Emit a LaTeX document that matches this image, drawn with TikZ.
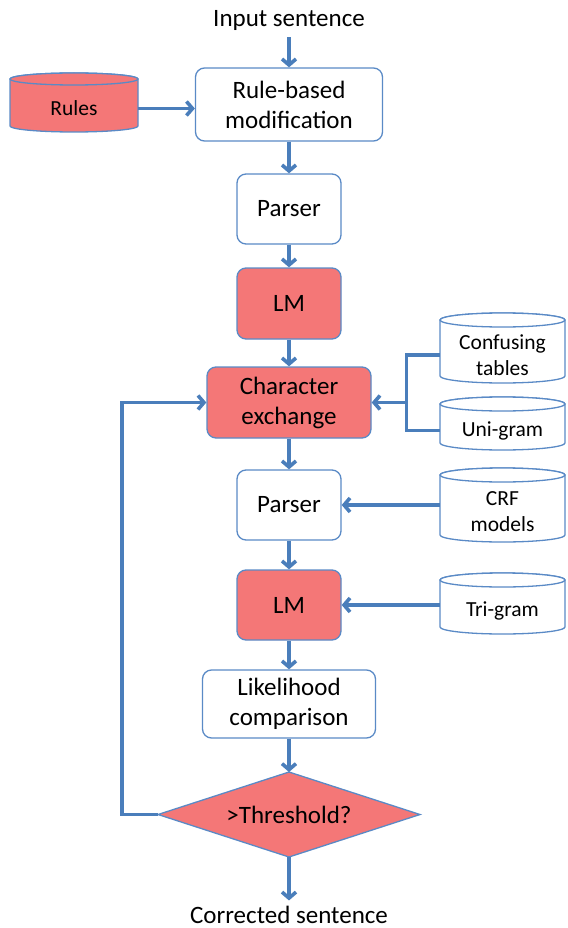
\documentclass[tikz,border=0pt]{standalone}
\usepackage{fontspec}
\setmainfont{Carlito}
\usetikzlibrary{arrows.meta,calc}

\definecolor{flowblue}{HTML}{4A7EBB}
\definecolor{edgeblue}{HTML}{5A8AC6}
\definecolor{boxred}{HTML}{F47777}

\tikzset{
  conn/.style={draw=flowblue, line width=3.6pt},
  arr/.style={conn, -{Straight Barb[length=6pt,width=14pt]}},
  stepbox/.style={draw=edgeblue, line width=1.3pt, rounded corners=9pt, fill=white,
    font=\fontsize{25}{30}\selectfont, align=center, inner sep=0pt},
  redbox/.style={stepbox, fill=boxred},
  lbl/.style={font=\fontsize{25}{30}\selectfont, inner sep=0pt},
  cyl/.style={draw=edgeblue, line width=1.3pt},
  cyltext/.style={font=\fontsize{21.5}{26}\selectfont, align=center, inner sep=0pt},
  decision/.style={draw=edgeblue, line width=1.3pt, fill=boxred, line join=miter}
}

% database cylinder: name, left, right, top, bottom, ellipse half-height, fill, text
\newcommand\dbcyl[8]{%
  \pgfmathsetmacro\cylcx{(#2+#3)/2}%
  \pgfmathsetmacro\cylhw{(#3-#2)/2}%
  \pgfmathsetmacro\cylw{#3-#2}%
  \pgfmathsetmacro\cylt{#4+#6}%
  \pgfmathsetmacro\cylb{#5-#6}%
  \pgfmathsetmacro\cylcy{(#4+2*#6+#5)/2}%
  \path[cyl, fill=#7] (#2,\cylt) -- (#2,\cylb)
    arc[start angle=180, end angle=360, x radius=\cylhw pt, y radius=#6pt]
    -- (#3,\cylt)
    arc[start angle=0, end angle=180, x radius=\cylhw pt, y radius=#6pt] -- cycle;
  \path[cyl, fill=#7] (\cylcx,\cylt) ellipse[x radius=\cylhw pt, y radius=#6pt];
  \node[cyltext, minimum width=\cylw pt] (#1) at (\cylcx,\cylcy) {#8};
}

\begin{document}
\begin{tikzpicture}[x=1pt, y=-1pt]
  \useasboundingbox (0,0) rectangle (567,928);

  % main chain
  \node[lbl, anchor=base] (inp) at (289,27) {Input sentence};
  \node[stepbox, minimum width=187pt, minimum height=73pt] (rbm) at (289,104.5) {Rule-based\\modification};
  \node[stepbox, minimum width=104pt, minimum height=70pt] (p1) at (289,209) {Parser};
  \node[redbox, minimum width=104pt, minimum height=71pt] (lm1) at (289,303.5) {LM};
  \node[redbox, minimum width=164pt, minimum height=71pt] (ce) at (289,402.5) {Character\\exchange};
  \node[stepbox, minimum width=104pt, minimum height=70pt] (p2) at (289,505) {Parser};
  \node[redbox, minimum width=104pt, minimum height=70pt] (lm2) at (289,605) {LM};
  \node[stepbox, minimum width=173pt, minimum height=68pt] (lc) at (289,704) {Likelihood\\comparison};

  % decision diamond
  \coordinate (diaN) at (289,772);
  \coordinate (diaE) at (420,814.5);
  \coordinate (diaS) at (289,857);
  \coordinate (diaW) at (158,814.5);
  \draw[decision] (diaN) -- (diaE) -- (diaS) -- (diaW) -- cycle;
  \node[lbl] (dia) at (289,814.5) {>Threshold?};

  \node[lbl, anchor=base] (out) at (289,923) {Corrected sentence};

  % resources
  \dbcyl{rules}{10}{138}{73}{132}{6}{boxred}{Rules}
  \dbcyl{ct}{440}{565}{313}{383}{7}{white}{Confusing\\tables}
  \dbcyl{ug}{440}{565}{397}{450}{7}{white}{Uni-gram}
  \dbcyl{crf}{440}{565}{468}{542}{7}{white}{CRF\\models}
  \dbcyl{tg}{440}{565}{573}{634}{7}{white}{Tri-gram}

  % vertical flow
  \draw[arr] ([yshift=-6pt]inp.south) -- (rbm.north);
  \draw[arr] (rbm) -- (p1);
  \draw[arr] (p1) -- (lm1);
  \draw[arr] (lm1) -- (ce);
  \draw[arr] (ce) -- (p2);
  \draw[arr] (p2) -- (lm2);
  \draw[arr] (lm2) -- (lc);
  \draw[arr] (lc.south) -- (diaN);
  \draw[arr] (diaS) -- ([yshift=5pt]out.north);

  % side inputs
  \draw[arr] (rules.east) -- (rules.east -| rbm.west);
  \coordinate (brk) at ([xshift=35pt]ce.east);
  \draw[conn] (ct.west) -| (brk) |- (ug.west);
  \draw[arr] (brk) -- (ce.east);
  \draw[arr] (crf.west |- p2.east) -- (p2.east);
  \draw[arr] (tg.west |- lm2.east) -- (lm2.east);

  % feedback loop
  \coordinate (lp) at ([xshift=-36pt]diaW);
  \draw[arr] (diaW) -- (lp) |- (ce.west);
\end{tikzpicture}
\end{document}
